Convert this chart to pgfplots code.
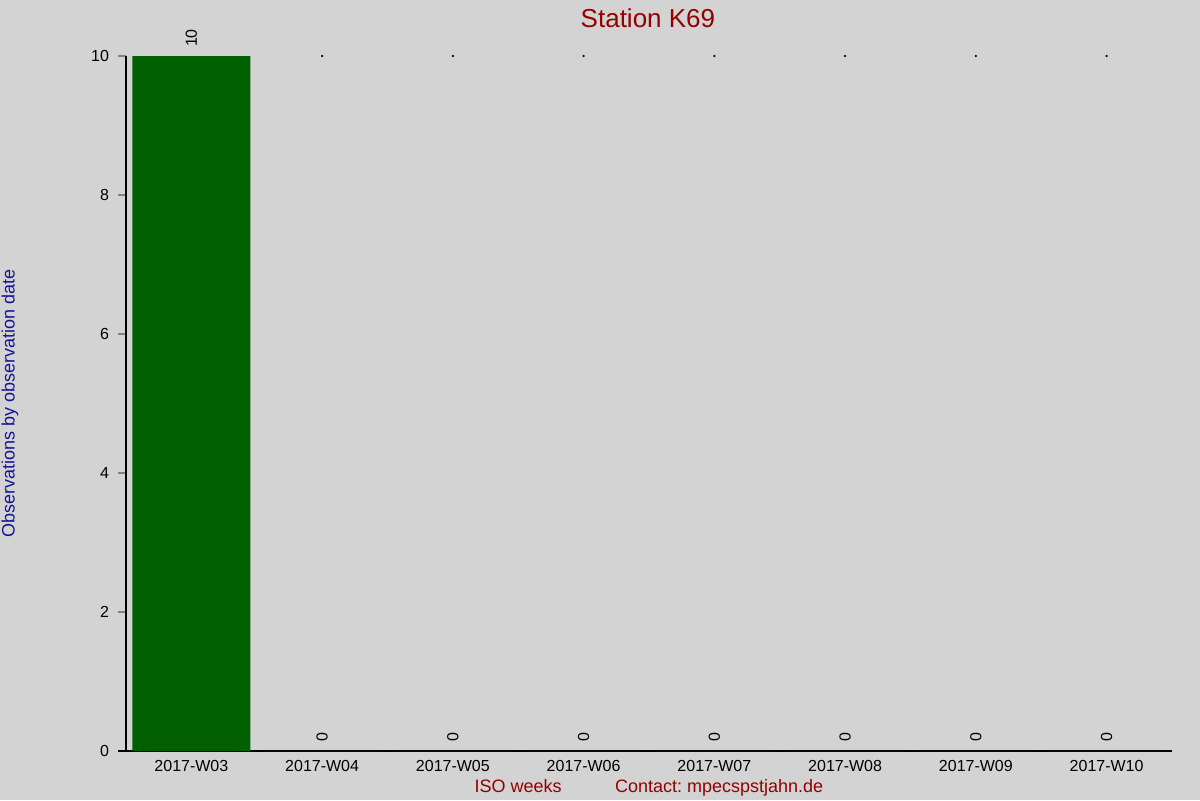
\documentclass[border=0pt]{standalone}
\usepackage{pgfplots}
\pgfplotsset{compat=1.18}
\usepackage{fontspec}
\setmainfont{Liberation Sans}
\definecolor{bg}{RGB}{211,211,211}
\definecolor{bargreen}{RGB}{0,96,0}
\definecolor{titlered}{RGB}{150,0,0}
\definecolor{labelblue}{RGB}{20,20,150}
\frenchspacing

\begin{document}
\begin{tikzpicture}
\fill[bg] (-63pt,-24.5pt) rectangle (537pt,375.5pt);
\useasboundingbox (-63pt,-24.5pt) rectangle (537pt,375.5pt);
\begin{axis}[
  at={(0,0)}, anchor=south west,
  scale only axis,
  width=523pt, height=347.5pt,
  xmin=-0.5, xmax=7.5,
  ymin=0, ymax=10,
  axis x line*=bottom, axis y line*=left,
  x axis line style={-, line width=0.7pt, shorten <=-4pt},
  y axis line style={-, line width=0.7pt},
  xtick={0,...,7},
  xticklabels={2017-W03,2017-W04,2017-W05,2017-W06,2017-W07,2017-W08,2017-W09,2017-W10},
  ytick={0,2,4,6,8,10},
  tick align=outside,
  major tick length=4pt,
  ytick style={line width=0.6pt},
  xtick style={draw=none},
  tick label style={font=\fontsize{8}{9}\selectfont},
  xticklabel style={yshift=3pt},
  yticklabel style={xshift=-1pt},
  /pgf/number format/assume math mode=true,
  clip=false,
]
\addplot[ybar, bar width=59pt, fill=bargreen, draw=none,
  nodes near coords,
  every node near coord/.append style={rotate=90, anchor=west,
    font=\fontsize{8}{9}\selectfont, black, xshift=1pt},
  ] coordinates {
  (0,10) (1,0) (2,0) (3,0) (4,0) (5,0) (6,0) (7,0)
};
\addplot[only marks, mark=*, mark size=0.3pt, black] coordinates {
  (1,10) (2,10) (3,10) (4,10) (5,10) (6,10) (7,10)
};
\node[font=\fontsize{13}{15}\selectfont, text=titlered] at (rel axis cs:0.499,1.055) {Station K69};
\node[font=\fontsize{9}{11}\selectfont, text=labelblue, rotate=90] at (rel axis cs:-0.111,0.5) {Observations by observation date};
\node[font=\fontsize{9}{11}\selectfont, text=titlered, anchor=base] at (rel axis cs:0.375,-0.06) {ISO weeks};
\node[font=\fontsize{9}{11}\selectfont, text=titlered, anchor=base] at (rel axis cs:0.567,-0.06) {Contact: mpecspstjahn.de};
\end{axis}
\end{tikzpicture}
\end{document}
